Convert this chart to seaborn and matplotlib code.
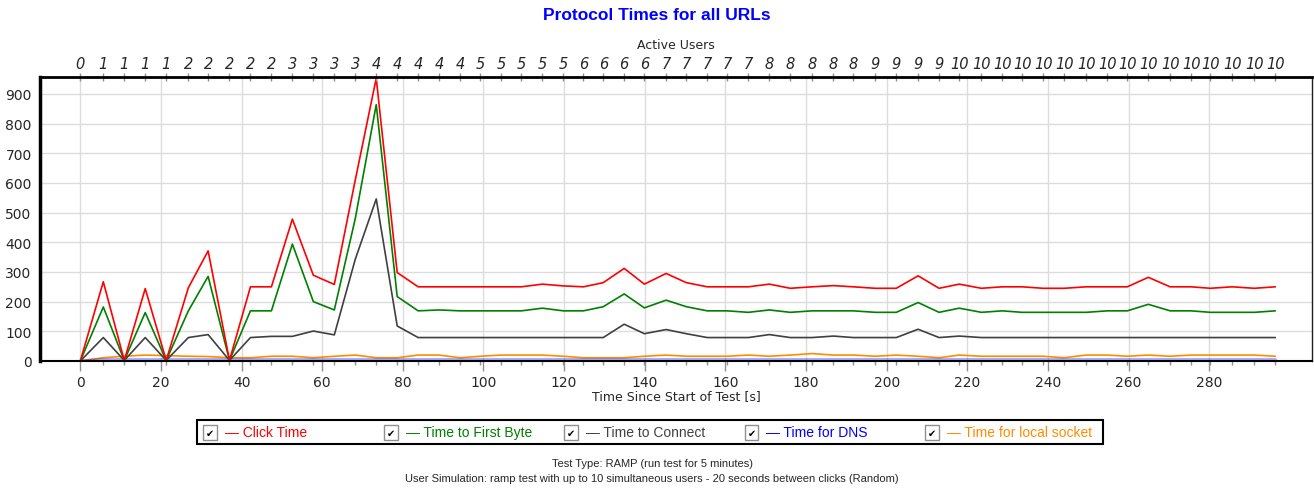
import numpy as np
import pandas as pd
import matplotlib
matplotlib.use('Agg')
import matplotlib.pyplot as plt
import seaborn as sns
from matplotlib.patches import Rectangle
from matplotlib.ticker import MultipleLocator, FixedLocator

# sample times [s] and active users at each sample
time_s = [0.0, 5.7, 10.9, 16.1, 21.3, 26.8, 31.7, 37.0, 42.2, 47.4,
          52.6, 57.8, 63.0, 68.2, 73.4, 78.6, 83.8, 89.0, 94.2, 99.2,
          104.4, 109.4, 114.6, 119.8, 124.8, 129.7, 134.9, 139.9, 145.3, 150.3,
          155.5, 160.5, 165.7, 170.9, 176.1, 181.5, 186.8, 191.7, 197.2, 202.4,
          207.8, 213.0, 218.0, 223.5, 228.7, 233.6, 238.8, 244.0, 249.5, 254.7,
          259.7, 264.9, 270.3, 275.5, 280.3, 285.7, 291.2, 296.4]
active_users = [0, 1, 1, 1, 1, 2, 2, 2, 2, 2,
                3, 3, 3, 3, 4, 4, 4, 4, 4, 5,
                5, 5, 5, 5, 6, 6, 6, 6, 7, 7,
                7, 7, 7, 8, 8, 8, 8, 8, 9, 9,
                9, 9, 10, 10, 10, 10, 10, 10, 10, 10,
                10, 10, 10, 10, 10, 10, 10, 10]
x_ticks = [0, 20, 40, 60, 80, 100, 120, 140, 160, 180, 200, 220, 240, 260, 280]

# protocol times [ms]
click_time = [0, 267, 2, 244, 2, 247, 371, 2, 250, 250,
              478, 289, 258, 610, 953, 298, 250, 250, 250, 250,
              250, 250, 259, 253, 250, 264, 312, 259, 295, 264,
              250, 250, 250, 259, 245, 250, 254, 250, 245, 245,
              287, 245, 259, 245, 250, 250, 245, 245, 250, 250,
              250, 282, 250, 250, 245, 250, 245, 250]
first_byte = [0, 182, 2, 163, 2, 169, 285, 2, 169, 169,
              394, 200, 172, 480, 864, 217, 169, 172, 169, 169,
              169, 169, 178, 169, 169, 183, 226, 179, 205, 183,
              169, 169, 164, 172, 164, 169, 169, 169, 164, 164,
              197, 164, 178, 164, 169, 164, 164, 164, 164, 169,
              169, 191, 169, 169, 164, 164, 164, 169]
connect_time = [0, 79, 2, 79, 2, 79, 89, 2, 79, 83,
                83, 101, 88, 343, 546, 118, 79, 79, 79, 79,
                79, 79, 79, 79, 79, 79, 124, 92, 106, 92,
                79, 79, 79, 89, 79, 79, 84, 79, 79, 79,
                107, 79, 84, 79, 79, 79, 79, 79, 79, 79,
                79, 79, 79, 79, 79, 79, 79, 79]
dns_time = [0, 4, 4, 4, 4, 4, 4, 4, 4, 4,
            4, 4, 4, 4, 4, 4, 4, 4, 4, 4,
            4, 4, 4, 4, 4, 4, 4, 4, 4, 4,
            4, 4, 4, 4, 4, 4, 4, 4, 4, 4,
            4, 4, 4, 4, 4, 4, 4, 4, 4, 4,
            4, 4, 4, 4, 4, 4, 4, 4]
socket_time = [0, 11, 16, 20, 18, 16, 15, 11, 11, 16,
               16, 11, 16, 20, 11, 11, 20, 20, 11, 16,
               20, 20, 20, 16, 11, 11, 11, 16, 20, 16,
               16, 16, 20, 16, 20, 25, 20, 20, 16, 20,
               16, 11, 20, 16, 16, 16, 16, 11, 20, 20,
               16, 20, 16, 20, 20, 20, 20, 16]

series_names = ['Click Time', 'Time to First Byte', 'Time to Connect',
                'Time for DNS', 'Time for local socket']
series_colors = ['#ff0000', '#008000', '#404040', '#0000ff', '#ff8c00']
series_values = [click_time, first_byte, connect_time, dns_time, socket_time]

frames = []
for name, vals in zip(series_names, series_values):
    frames.append(pd.DataFrame({'time': time_s, 'ms': vals, 'series': name}))
df = pd.concat(frames, ignore_index=True)

sns.set_style('white')
plt.rcParams['font.family'] = ['DejaVu Sans']

W, H = 1314, 489
fig = plt.figure(figsize=(W / 100, H / 100), dpi=100)
ax = fig.add_axes([40 / W, 1 - 362 / H, 1272 / W, 284 / H])

# draw in reverse so the click time ends up on top
sns.lineplot(data=df, x='time', y='ms', hue='series',
             hue_order=series_names[::-1],
             palette=dict(zip(series_names, series_colors)),
             estimator=None, sort=False, legend=False, linewidth=1.2, ax=ax)
# DNS line shows up as a pale band along the bottom
ax.lines[1].set_alpha(0.35)
ax.lines[1].set_linewidth(2.5)

ax.set_xlim(-10, 305.5)
ax.set_ylim(0, 957)
ax.xaxis.set_major_locator(FixedLocator(x_ticks))
ax.xaxis.set_minor_locator(FixedLocator(time_s))
ax.yaxis.set_major_locator(MultipleLocator(100))
ax.yaxis.set_minor_locator(MultipleLocator(20))
ax.grid(True, which='major', color='#dcdcdc', linewidth=1)
ax.set_axisbelow(True)
ax.tick_params(axis='x', which='major', direction='out', length=7, width=1,
               color='#909090', labelsize=10, pad=3)
ax.tick_params(axis='x', which='minor', direction='out', length=3, width=1,
               color='#909090')
ax.tick_params(axis='y', which='major', direction='out', length=4, width=1,
               color='#606060', labelsize=10, pad=2)
ax.tick_params(axis='y', which='minor', direction='out', length=2, width=1,
               color='#606060')
ax.set_xlabel('Time Since Start of Test [s]', fontsize=9, labelpad=0)
ax.set_ylabel('')
ax.spines['left'].set_linewidth(2.5)
ax.spines['left'].set_color('black')
ax.spines['bottom'].set_linewidth(1.5)
ax.spines['bottom'].set_color('black')
ax.spines['right'].set_linewidth(1)
ax.spines['right'].set_color('#202020')

# secondary axis with active users
ax2 = ax.twiny()
ax2.set_xlim(ax.get_xlim())
ax2.set_xticks(time_s)
ax2.set_xticklabels([str(u) for u in active_users], fontstyle='italic', fontsize=10.5)
ax2.tick_params(axis='x', direction='inout', length=6, width=1, color='#909090', pad=1)
ax2.set_xlabel('Active Users', fontsize=9, labelpad=6)
ax2.spines['top'].set_linewidth(2)
ax2.spines['top'].set_color('black')
for side in ['left', 'right', 'bottom']:
    ax2.spines[side].set_visible(False)

fig.text(0.5, 1 - 15 / H, 'Protocol Times for all URLs', ha='center', va='center',
         fontsize=12.5, fontweight='bold', color='#0000ff', family='Liberation Sans')

# legend box with check boxes
fig.patches.append(Rectangle((197 / W, 1 - 445 / H), 906 / W, 24 / H,
                             transform=fig.transFigure, fill=False,
                             edgecolor='black', linewidth=1.5))
for i, (name, color) in enumerate(zip(series_names, series_colors)):
    x0 = 203 + i * 180.5
    fig.patches.append(Rectangle((x0 / W, 1 - 441 / H), 14 / W, 15 / H,
                                 transform=fig.transFigure, facecolor='white',
                                 edgecolor='#909090', linewidth=1))
    fig.text((x0 + 7) / W, 1 - 433.5 / H, '\u2714', ha='center', va='center',
             fontsize=7, color='black')
    fig.text((x0 + 22) / W, 1 - 433 / H, '\u2014 ' + name, ha='left', va='center',
             fontsize=10, color=color, family='Liberation Sans')

fig.text(652 / W, 1 - 464 / H, 'Test Type: RAMP (run test for 5 minutes)',
         ha='center', va='center', fontsize=8, family='Liberation Sans')
fig.text(652 / W, 1 - 479 / H,
         'User Simulation: ramp test with up to 10 simultaneous users - 20 seconds between clicks (Random)',
         ha='center', va='center', fontsize=8, family='Liberation Sans')

fig.savefig('out.png', dpi=100)
